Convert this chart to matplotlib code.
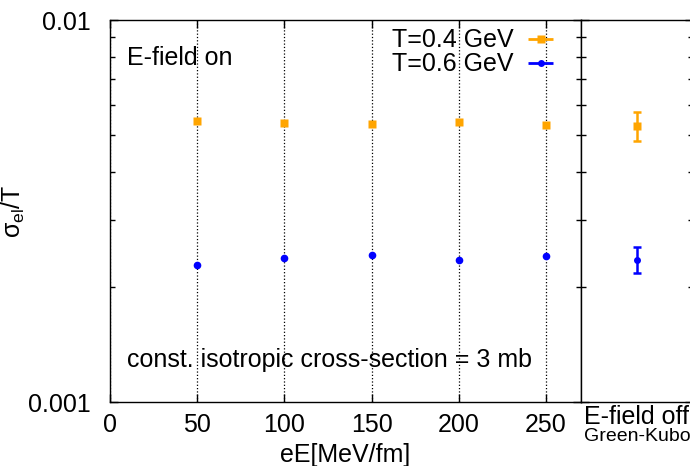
import numpy as np
import matplotlib
matplotlib.use("Agg")
import matplotlib.pyplot as plt
from matplotlib.container import ErrorbarContainer
from matplotlib.legend_handler import HandlerErrorbar

plt.rcParams['font.family'] = ['Liberation Sans', 'DejaVu Sans']
plt.rcParams['font.size'] = 18
plt.rcParams['mathtext.fontset'] = 'custom'
plt.rcParams['mathtext.rm'] = 'Liberation Sans'
plt.rcParams['mathtext.it'] = 'Liberation Sans:italic'

# field strengths eE [MeV/fm]
eE = [50, 100, 150, 200, 250]
# sigma_el / T with E-field on
sig_T04 = [0.00543, 0.00537, 0.00533, 0.00540, 0.00530]
sig_T06 = [0.00228, 0.00238, 0.00242, 0.00235, 0.00241]
# Green-Kubo (E-field off) reference values
gk_T04, gk_T04_err = 0.00528, 0.00047
gk_T06, gk_T06_err = 0.00236, 0.00019

xticks = [0, 50, 100, 150, 200, 250]
orange = '#ffa500'
blue = '#0000ff'

fig = plt.figure(figsize=(6.9, 4.66), dpi=100)
ax1 = fig.add_axes([110/690, 64/466, 471/690, 382/466])
ax2 = fig.add_axes([581/690, 64/466, 112/690, 382/466], sharey=ax1)

# left panel: field on
ax1.plot(eE, sig_T04, 's', color=orange, ms=6, mec='none', zorder=3)
ax1.plot(eE, sig_T06, 'o', color=blue, ms=5.5, mec='none', zorder=3)
ax1.set_yscale('log')
ax1.set_ylim(0.001, 0.01)
ax1.set_xlim(0, 270)
ax1.set_xticks(xticks)
ax1.grid(axis='x', linestyle=':', color='black', lw=0.9)
ax1.set_xlabel('eE[MeV/fm]', labelpad=4)
ax1.set_ylabel(r'$\mathregular{\sigma_{el}}$/T')
ax1.yaxis.set_label_coords(-0.176, 0.5)
ax1.yaxis.set_major_formatter(matplotlib.ticker.FuncFormatter(lambda v, p: '%g' % v))
ax1.yaxis.set_minor_formatter(matplotlib.ticker.NullFormatter())
ax1.tick_params(which='both', direction='in', top=True, right=True, width=1)
ax1.tick_params(which='major', length=6)
ax1.tick_params(which='minor', length=3.5)
ax1.tick_params(axis='y', which='major', pad=14)
ax1.tick_params(axis='x', which='major', pad=8)

ax1.text(0.036, 0.882, 'E-field on', transform=ax1.transAxes, va='baseline')
ax1.text(0.036, 0.092, 'const. isotropic cross-section = 3 mb',
         transform=ax1.transAxes, va='baseline')

# legend with horizontal error-bar glyphs
h1 = ax1.errorbar([], [], xerr=[], fmt='s', color=orange, ms=6, mec='none',
                  elinewidth=2, capsize=3.5, capthick=2)
h2 = ax1.errorbar([], [], xerr=[], fmt='o', color=blue, ms=5, mec='none',
                  elinewidth=2, capsize=3.5, capthick=2)
ax1.legend([h1, h2], ['T=0.4 GeV', 'T=0.6 GeV'], loc='upper right',
           bbox_to_anchor=(0.968, 0.978), frameon=False, markerfirst=False,
           borderpad=0, borderaxespad=0, labelspacing=0.0, handletextpad=0.1,
           handlelength=2.0,
           handler_map={ErrorbarContainer: HandlerErrorbar(xerr_size=0.5)})

# right panel: Green-Kubo, field off
ax2.errorbar([0.5], [gk_T04], yerr=[gk_T04_err], fmt='s', color=orange, ms=6,
             mec='none', elinewidth=1.8, capsize=3, capthick=1.8)
ax2.errorbar([0.5], [gk_T06], yerr=[gk_T06_err], fmt='o', color=blue, ms=5,
             mec='none', elinewidth=1.8, capsize=3, capthick=1.8)
ax2.set_xlim(0, 1)
ax2.set_xticks([0.5])
ax2.set_xticklabels(['E-field off'])
ax2.tick_params(axis='x', which='both', length=0, pad=2)
ax2.tick_params(axis='y', which='both', direction='in', left=True, right=True,
                labelleft=False, width=1)
ax2.tick_params(axis='y', which='major', length=6)
ax2.tick_params(axis='y', which='minor', length=3.5)
ax2.text(0.5, -0.103, 'Green-Kubo', transform=ax2.transAxes, ha='center',
         va='baseline', fontsize=14)

for ax in (ax1, ax2):
    for s in ax.spines.values():
        s.set_linewidth(1.0)

fig.savefig('out.png', dpi=100)
